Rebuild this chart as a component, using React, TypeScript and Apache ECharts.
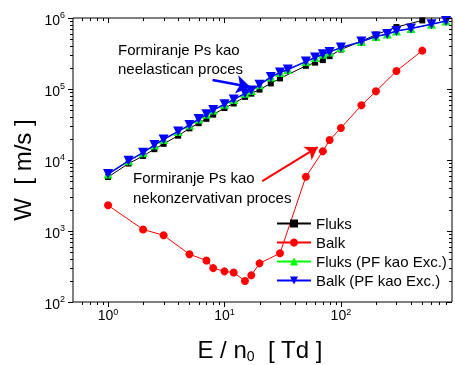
import React, { useEffect, useRef } from "react";
import * as echarts from "echarts";

const FONT = "'Liberation Sans', Arial, Helvetica, sans-serif";

// Fluks (black squares)
const xFluks = [1, 1.5, 2, 2.5, 3, 4, 5, 6, 7, 8, 10, 12, 15, 17, 20, 25, 30, 50, 60, 70, 80, 100, 150, 200, 300, 500];
const yFluks = [5750, 8900, 11400, 14200, 16900, 22000, 27900, 33000, 38000, 43500, 54000, 62500, 77500, 86000, 98000, 120000, 141000, 212000, 235000, 255000, 290000, 360000, 470000, 585000, 745000, 925000];

// Balk (red circles)
const xBalk = [1, 2, 3, 5, 7, 8, 10, 12, 15, 17, 20, 30, 50, 70, 80, 100, 150, 200, 300, 500];
const yBalk = [2300, 1050, 870, 470, 385, 300, 270, 260, 198, 238, 350, 486, 5800, 13300, 19100, 28200, 58900, 92700, 179000, 347000];

// PF kao Exc. series
const xPF = [1, 1.5, 2, 2.5, 3, 4, 5, 6, 7, 8, 10, 12, 15, 17, 20, 25, 30, 35, 50, 60, 70, 80, 100, 150, 200, 250, 300, 400, 600, 800];
const yFluksPF = [6330, 9750, 12700, 16200, 19500, 25300, 31000, 37700, 44000, 50500, 61000, 71000, 87000, 95000, 115000, 147000, 171000, 188000, 243000, 278000, 308000, 333000, 383000, 465000, 550000, 595000, 655000, 712000, 818000, 910000];
const yBalkPF = [6330, 9750, 12700, 16200, 19500, 25300, 31000, 37700, 44000, 50500, 61000, 71000, 87000, 95000, 115000, 147000, 171000, 188000, 243000, 278000, 308000, 333000, 383000, 465000, 550000, 595000, 655000, 712000, 818000, 910000];

// axis ticks
const xMajorTicks = [1, 10, 100];
const xMinorTicks = [0.6, 0.7, 0.8, 0.9, 2, 3, 4, 5, 6, 7, 8, 9, 20, 30, 40, 50, 60, 70, 80, 90, 200, 300, 400, 500, 600, 700, 800];
const yMajorTicks = [100, 1000, 10000, 100000, 1000000];
const yMinorTicks = [200, 300, 400, 500, 600, 700, 800, 900, 2000, 3000, 4000, 5000, 6000, 7000, 8000, 9000, 20000, 30000, 40000, 50000, 60000, 70000, 80000, 90000, 200000, 300000, 400000, 500000, 600000, 700000, 800000, 900000];

const seriesNames = ["Fluks", "Balk", "Fluks (PF kao Exc.)", "Balk (PF kao Exc.)"];

// annotation arrows (data coordinates)
const blueArrow = [[7.9, 134000], [16.66, 106700]];
const redArrow = [[21.1, 5040], [63.2, 15150]];

const powLabel = (v: number) => {
  const e = Math.log10(v);
  const r = Math.round(e);
  if (Math.abs(e - r) > 1e-6) return "";
  return `{b|10}{s|${r}}`;
};

const richPowX = {
  b: { fontSize: 14, fontFamily: FONT, color: "#000", lineHeight: 16 },
  s: { fontSize: 9, fontFamily: FONT, color: "#000", lineHeight: 9, verticalAlign: "top" as const },
};
const richPowY = {
  b: { fontSize: 14, fontFamily: FONT, color: "#000", lineHeight: 16, padding: [4, 0, 0, 0] },
  s: { fontSize: 9, fontFamily: FONT, color: "#000", lineHeight: 9, verticalAlign: "top" as const },
};

export default function App() {
  const ref = useRef<HTMLDivElement>(null);
  useEffect(() => {
    if (!ref.current) return;
    const chart = echarts.init(ref.current, null, { renderer: "svg" });
    const xTickData = [
      ...xMajorTicks.map((v) => [v, 1000, 5]),
      ...xMinorTicks.map((v) => [v, 1000, 3]),
    ];
    const yTickData = [
      ...yMajorTicks.map((v) => [1, v, 5]),
      ...yMinorTicks.map((v) => [1, v, 3]),
    ];
    const option: any = {
      animation: false,
      grid: { left: 73, right: 1, top: 18, bottom: 63, show: true, borderColor: "#000", borderWidth: 1, backgroundColor: "transparent" },
      xAxis: {
        type: "log",
        logBase: 10,
        min: 0.5,
        max: 900,
        axisLine: { show: false },
        axisTick: { show: false },
        splitLine: { show: false },
        axisLabel: { formatter: powLabel, rich: richPowX, margin: 5 },
      },
      yAxis: {
        type: "log",
        logBase: 10,
        min: 100,
        max: 1000000,
        axisLine: { show: false },
        axisTick: { show: false },
        splitLine: { show: false },
        axisLabel: { formatter: powLabel, rich: richPowY, margin: 8 },
      },
      legend: {
        data: seriesNames,
        orient: "vertical",
        left: 276,
        top: 216,
        padding: 0,
        itemWidth: 34,
        itemHeight: 10,
        itemGap: 4,
        textStyle: { fontSize: 15, fontFamily: FONT, color: "#000" },
      },
      graphic: [
        {
          type: "text",
          x: 118,
          y: 58.5,
          style: { text: "Formiranje Ps kao\nneelastican proces", font: `15px ${FONT}`, fill: "#000", lineHeight: 19, textVerticalAlign: "middle" },
        },
        {
          type: "text",
          x: 133,
          y: 187,
          style: { text: "Formiranje Ps kao\nnekonzervativan proces", font: `15px ${FONT}`, fill: "#000", lineHeight: 20, textVerticalAlign: "middle" },
        },
        {
          type: "text",
          x: 22,
          y: 170,
          rotation: Math.PI / 2,
          style: { text: "W  [ m/s ]", font: `24px ${FONT}`, fill: "#000", textAlign: "center", textVerticalAlign: "middle" },
        },
        {
          type: "text",
          x: 260,
          y: 349,
          style: {
            text: "{t|E / n}{u|0}{t|  [ Td ]}",
            textAlign: "center",
            textVerticalAlign: "middle",
            rich: {
              t: { fontSize: 24, fontFamily: FONT, fill: "#000", lineHeight: 28 },
              u: { fontSize: 14, fontFamily: FONT, fill: "#000", lineHeight: 14, verticalAlign: "bottom" },
            },
          },
        },
      ],
      series: [
        {
          name: "Fluks",
          type: "line",
          data: xFluks.map((x, i) => [x, yFluks[i]]),
          symbol: "rect",
          symbolSize: 6,
          color: "#000000",
          lineStyle: { width: 1, color: "#000000" },
          itemStyle: { color: "#000000" },
          z: 2,
        },
        {
          name: "Balk",
          type: "line",
          data: xBalk.map((x, i) => [x, yBalk[i]]),
          symbol: "circle",
          symbolSize: 8,
          color: "#ff0000",
          lineStyle: { width: 1, color: "#ff0000" },
          itemStyle: { color: "#ff0000" },
          z: 3,
          markLine: {
            silent: true,
            animation: false,
            symbol: ["none", "arrow"],
            symbolSize: 12,
            label: { show: false },
            lineStyle: { color: "#ff0000", width: 2, type: "solid" },
            emphasis: { disabled: true },
            data: [[{ coord: redArrow[0] }, { coord: redArrow[1] }]],
          },
        },
        {
          name: "Fluks (PF kao Exc.)",
          type: "line",
          data: xPF.map((x, i) => [x, yFluksPF[i]]),
          symbol: "triangle",
          symbolSize: 9,
          color: "#00ff00",
          lineStyle: { width: 1, color: "#00ff00" },
          itemStyle: { color: "#00ff00" },
          z: 4,
        },
        {
          name: "Balk (PF kao Exc.)",
          type: "line",
          data: xPF.map((x, i) => [x, yBalkPF[i]]),
          symbol: "triangle",
          symbolRotate: 180,
          symbolSize: 10,
          color: "#0000ff",
          lineStyle: { width: 1.5, color: "#0000ff" },
          itemStyle: { color: "#0000ff" },
          z: 5,
          markLine: {
            silent: true,
            animation: false,
            symbol: ["none", "arrow"],
            symbolSize: 14,
            label: { show: false },
            lineStyle: { color: "#0000ff", width: 2.5, type: "solid" },
            emphasis: { disabled: true },
            data: [[{ coord: blueArrow[0] }, { coord: blueArrow[1] }]],
          },
        },
        {
          type: "custom",
          silent: true,
          z: 10,
          data: xTickData,
          encode: { x: 0, y: 1 },
          renderItem: (params: any, api: any) => {
            const cs = params.coordSys;
            const x = Math.round(api.coord([api.value(0), 1000])[0]) + 0.5;
            const len = api.value(2);
            const bottom = cs.y + cs.height;
            const top = cs.y;
            return {
              type: "group",
              children: [
                { type: "line", shape: { x1: x, y1: bottom, x2: x, y2: bottom + len }, style: { stroke: "#000", lineWidth: 1 } },
                { type: "line", shape: { x1: x, y1: top, x2: x, y2: top + len }, style: { stroke: "#000", lineWidth: 1 } },
              ],
            };
          },
        },
        {
          type: "custom",
          silent: true,
          z: 10,
          data: yTickData,
          encode: { x: 0, y: 1 },
          renderItem: (params: any, api: any) => {
            const cs = params.coordSys;
            const y = Math.round(api.coord([1, api.value(1)])[1]) + 0.5;
            const len = api.value(2);
            const left = cs.x;
            const right = cs.x + cs.width;
            return {
              type: "group",
              children: [
                { type: "line", shape: { x1: left - len, y1: y, x2: left, y2: y }, style: { stroke: "#000", lineWidth: 1 } },
                { type: "line", shape: { x1: right - len, y1: y, x2: right, y2: y }, style: { stroke: "#000", lineWidth: 1 } },
              ],
            };
          },
        },
      ],
    };
    chart.setOption(option);
    return () => chart.dispose();
  }, []);
  return <div ref={ref} style={{ position: "fixed", left: 0, top: 0, width: 455, height: 365 }} />;
}
